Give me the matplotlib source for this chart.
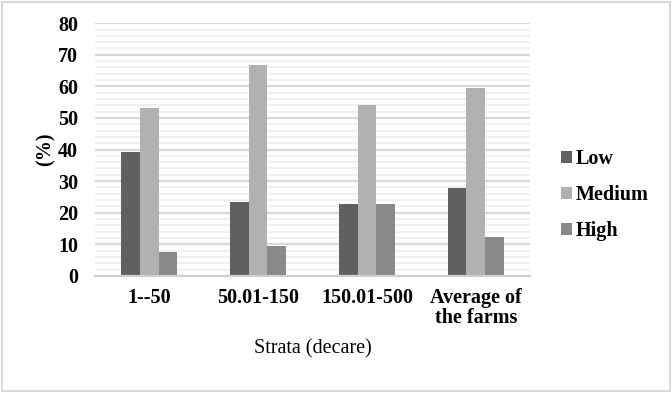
import matplotlib.pyplot as plt
import numpy as np
from matplotlib.patches import Rectangle

plt.rcParams['font.family'] = ['Liberation Serif', 'DejaVu Serif']

# data
categories = ['1--50', '50.01-150', '150.01-500', 'Average of\nthe farms']
series = ['Low', 'Medium', 'High']
low = [39.2, 23.4, 22.8, 27.9]
medium = [53.1, 66.8, 54.2, 59.6]
high = [7.6, 9.5, 22.8, 12.3]
colors = ['#606060', '#b1b1b1', '#898989']

fs = 14.5

fig = plt.figure(figsize=(6.72, 3.93), dpi=100)
ax = fig.add_axes([0.141, 0.298, 0.648, 0.643])

x = np.arange(len(categories))
w = 0.172
for i, (vals, c, name) in enumerate(zip([low, medium, high], colors, series)):
    ax.bar(x + (i - 1) * w, vals, w, color=c, label=name, zorder=3)

ax.set_xlim(-0.5, len(categories) - 0.5)
ax.set_ylim(0, 80)
ax.set_yticks(np.arange(0, 81, 10))
ax.set_yticks(np.arange(0, 81, 2), minor=True)
ax.grid(True, which='minor', axis='y', color='#f0f0f0', lw=1.6, zorder=0)
ax.grid(True, which='major', axis='y', color='#d9d9d9', lw=1.6, zorder=1)
ax.tick_params(axis='y', which='both', length=0, pad=12)
ax.tick_params(axis='x', length=0, pad=9)
ax.set_xticks(x)
ax.set_xticklabels(categories, fontsize=fs, fontweight='bold', linespacing=0.95)
for t in ax.get_yticklabels():
    t.set_fontsize(fs)
    t.set_fontweight('bold')

for s in ['top', 'right', 'left']:
    ax.spines[s].set_visible(False)
ax.spines['bottom'].set_color('#d0d0d0')
ax.spines['bottom'].set_linewidth(1.6)
ax.spines['bottom'].set_zorder(4)

ax.set_ylabel('(%)', fontsize=fs, fontweight='bold', labelpad=2)
ax.set_xlabel('Strata (decare)', fontsize=fs, labelpad=8)

leg = ax.legend(loc='center left', bbox_to_anchor=(1.03, 0.32), frameon=False,
                prop={'size': fs, 'weight': 'bold'}, handlelength=0.55,
                handleheight=0.55, handletextpad=0.15, labelspacing=0.8)

fig.patches.append(Rectangle((0.003, 0.004), 0.994, 0.992, transform=fig.transFigure,
                             fill=False, edgecolor='#d9d9d9', lw=1.5))

fig.savefig('out.png', dpi=100)
